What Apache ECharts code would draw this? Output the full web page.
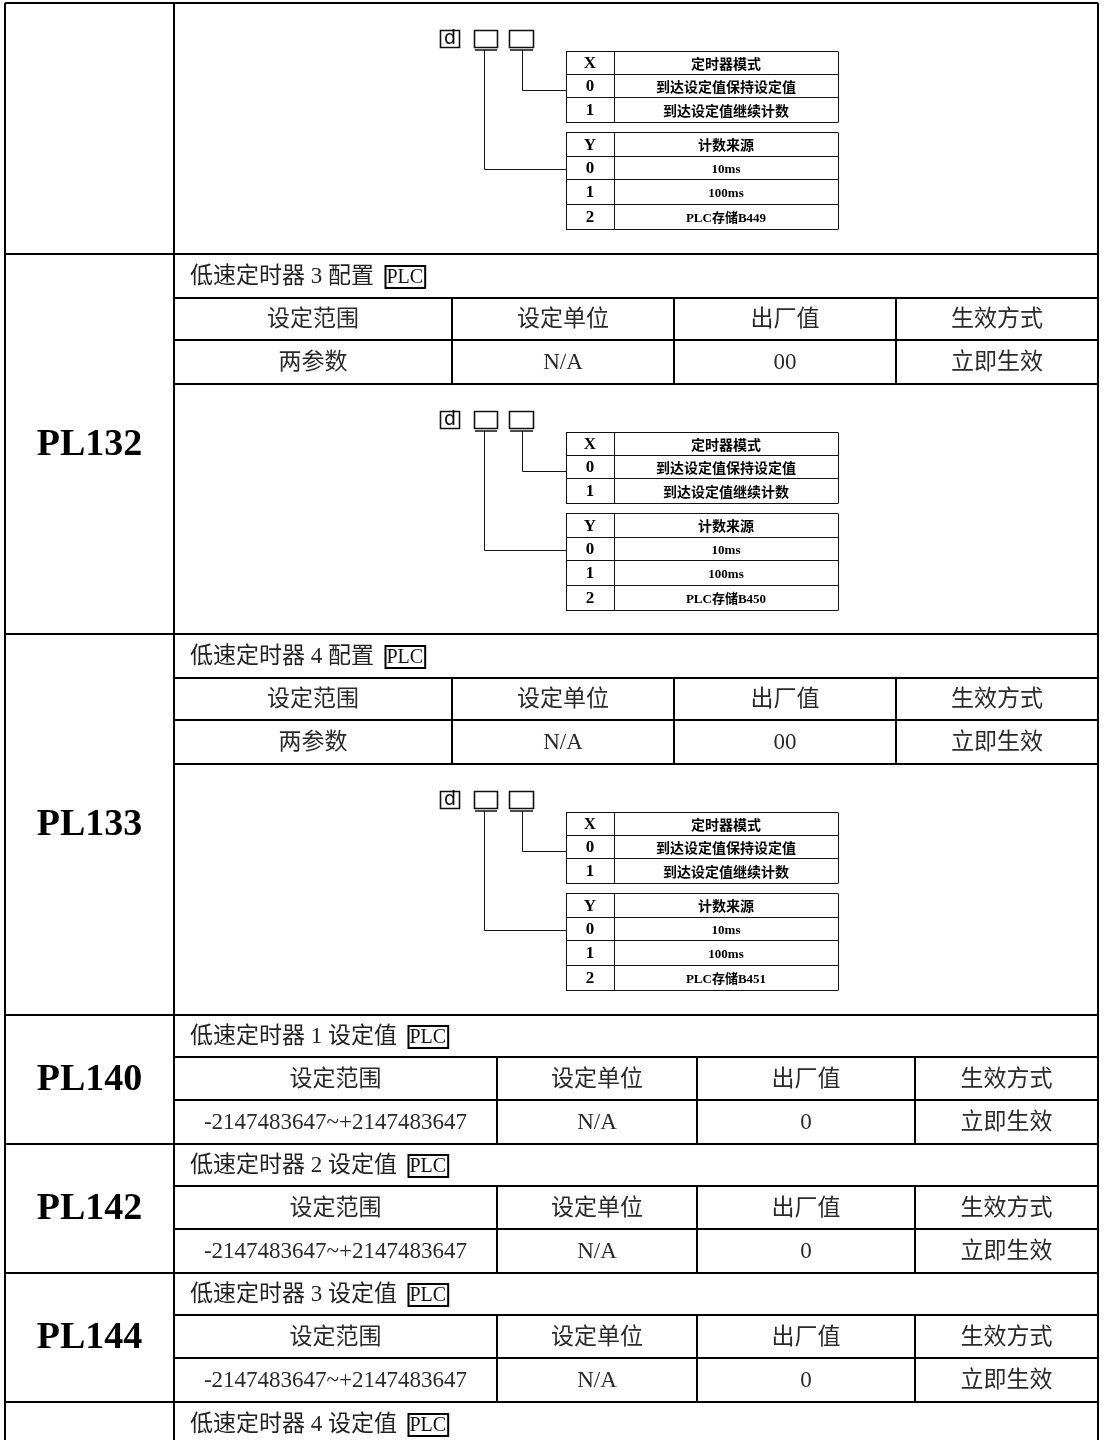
<!DOCTYPE html>
<html>
<head>
<meta charset="utf-8">
<script src="https://cdn.jsdelivr.net/npm/echarts@6/dist/echarts.min.js"></script>
<style>
html,body{margin:0;padding:0;background:#fff;}
#c{width:1106px;height:1440px;}
</style>
</head>
<body>
<div id="c"></div>
<script>
// ---------------- DATA ----------------
const paramCodes = ['', 'PL132', 'PL133', 'PL140', 'PL142', 'PL144', ''];
const paramTitles = [null, '低速定时器 3 配置', '低速定时器 4 配置', '低速定时器 1 设定值', '低速定时器 2 设定值', '低速定时器 3 设定值', '低速定时器 4 设定值'];
const headerLabels = ['设定范围', '设定单位', '出厂值', '生效方式'];
const settingRanges = [null, '两参数', '两参数', '-2147483647~+2147483647', '-2147483647~+2147483647', '-2147483647~+2147483647', null];
const settingUnits = [null, 'N/A', 'N/A', 'N/A', 'N/A', 'N/A', null];
const factoryValues = [null, '00', '00', '0', '0', '0', null];
const effectModes = [null, '立即生效', '立即生效', '立即生效', '立即生效', '立即生效', null];
const plcTag = 'PLC';
const digitBoxes = ['d', '', ''];
const modeHeader = ['X', '定时器模式'];
const modeCodes = ['0', '1'];
const modeTexts = ['到达设定值保持设定值', '到达设定值继续计数'];
const sourceHeader = ['Y', '计数来源'];
const sourceCodes = ['0', '1', '2'];
const sourceTexts = ['10ms', '100ms', 'PLC存储'];
const storageRegisters = ['B449', 'B450', 'B451'];

// ---------------- LAYOUT ----------------
const L = 5, DIV = 174, R = 1098, H = 1440;
const colsA = [174, 452, 674, 896, 1098];
const colsB = [174, 497, 697, 915, 1098];
const blocks = [
  {top: 3,    rows: [],          diag: 251, cols: colsA, diagIdx: 0},
  {top: 254,  rows: [44, 42, 44], diag: 250, cols: colsA, diagIdx: 1},
  {top: 634,  rows: [44, 42, 44], diag: 251, cols: colsA, diagIdx: 2},
  {top: 1015, rows: [42, 43, 44], diag: 0,   cols: colsB},
  {top: 1144, rows: [42, 43, 44], diag: 0,   cols: colsB},
  {top: 1273, rows: [42, 43, 44], diag: 0,   cols: colsB},
  {top: 1402, rows: [44],         diag: 0,   cols: colsB}
];

const CJK = "'Liberation Serif','Noto Sans CJK SC',sans-serif";
const els = [];
function line(x1, y1, x2, y2, w, c) {
  els.push({type: 'line', silent: true, shape: {x1, y1, x2, y2}, style: {stroke: c || '#000', lineWidth: w || 2}});
}
function rect(x, y, w, h, lw, c) {
  els.push({type: 'rect', silent: true, shape: {x, y, width: w, height: h}, style: {fill: 'none', stroke: c || '#000', lineWidth: lw || 1}});
}
function text(t, x, y, st) {
  els.push({type: 'text', silent: true, x, y, style: Object.assign({
    text: t, fill: '#111', textAlign: 'center', textVerticalAlign: 'middle',
    fontSize: 22, fontFamily: CJK
  }, st || {})});
}

// outer frame
line(L, 3, L, H);
line(DIV, 3, DIV, H);
line(R, 3, R, H);
line(L, 3, R, 3);

function diagram(bTop, idx) {
  const xt = bTop + 48;          // top of X table
  const tx1 = 566, tx2 = 838, tc = 614;
  const c1 = (tx1 + tc) / 2, c2 = (tc + tx2) / 2;
  const gc = '#111';
  const bx = [[440, 19], [474, 23], [509, 24]];
  bx.forEach((b, i) => {
    rect(b[0] + 0.5, xt - 20.5, b[1], 17, 1.6, gc);
    if (digitBoxes[i]) text(digitBoxes[i], b[0] + b[1] / 2 + 0.5, xt - 12, {fontFamily: "'DejaVu Sans',sans-serif", fontSize: 19, fill: '#000'});
  });
  line(475, xt - 1, 497, xt - 1, 1.5, gc);
  line(510, xt - 1, 533, xt - 1, 1.5, gc);
  line(484.5, xt - 1, 484.5, xt + 118.5, 1, gc);
  line(484.5, xt + 118.5, tx1, xt + 118.5, 1, gc);
  line(522.5, xt - 1, 522.5, xt + 39.5, 1, gc);
  line(522.5, xt + 39.5, tx1, xt + 39.5, 1, gc);
  // X table
  const xr = [0, 23, 46, 71].map(v => xt + v + 0.5);
  xr.forEach(y => line(tx1, y, tx2, y, 1, gc));
  line(tx1 + 0.5, xr[0], tx1 + 0.5, xr[3], 1, gc);
  line(tx2 + 0.5, xr[0], tx2 + 0.5, xr[3], 1, gc);
  line(tc + 0.5, xr[0], tc + 0.5, xr[3], 1, gc);
  const codeSt = {fontFamily: "'Liberation Serif',serif", fontWeight: 'bold', fontSize: 17, fill: '#000'};
  const txtSt = {fontFamily: CJK, fontWeight: 'bold', fontSize: 14, fill: '#000'};
  const xCodes = [modeHeader[0]].concat(modeCodes);
  const xTexts = [modeHeader[1]].concat(modeTexts);
  for (let i = 0; i < 3; i++) {
    const cy = (xr[i] + xr[i + 1]) / 2 + 1;
    text(xCodes[i], c1, cy, codeSt);
    text(xTexts[i], c2, cy + 1, txtSt);
  }
  // Y table
  const yr = [81, 105, 128, 153, 178].map(v => xt + v + 0.5);
  yr.forEach(y => line(tx1, y, tx2, y, 1, gc));
  line(tx1 + 0.5, yr[0], tx1 + 0.5, yr[4], 1, gc);
  line(tx2 + 0.5, yr[0], tx2 + 0.5, yr[4], 1, gc);
  line(tc + 0.5, yr[0], tc + 0.5, yr[4], 1, gc);
  const yCodes = [sourceHeader[0]].concat(sourceCodes);
  const yTexts = [sourceHeader[1]].concat(sourceTexts.slice(0, 2), [sourceTexts[2] + storageRegisters[idx]]);
  for (let i = 0; i < 4; i++) {
    const cy = (yr[i] + yr[i + 1]) / 2 + 1;
    text(yCodes[i], c1, cy, codeSt);
    text(yTexts[i], c2, cy + 1, i === 0 ? txtSt : Object.assign({}, txtSt, {fontSize: 13}));
  }
}

blocks.forEach((b, bi) => {
  let y = b.top;
  const total = b.rows.reduce((a, v) => a + v, 0) + b.diag;
  const bottom = b.top + total;
  if (paramCodes[bi]) {
    text(paramCodes[bi], (L + DIV) / 2, (b.top + bottom) / 2 + 1, {
      fontFamily: "'Liberation Serif',serif", fontWeight: 'bold', fontSize: 38, fill: '#000'
    });
  }
  if (b.rows.length) {
    const t0 = y, t1 = y + b.rows[0];
    text(paramTitles[bi] + '  {p|' + plcTag + '}', 190, (t0 + t1) / 2 + 1, {
      textAlign: 'left', fontSize: 23, fill: '#222',
      rich: {p: {fontFamily: "'Liberation Serif',serif", fontSize: 20, lineHeight: 19,
                 borderColor: '#000', borderWidth: 2, padding: [2, 2, 0, 1], fill: '#111'}}
    });
    line(DIV, t1, R, t1);
    y = t1;
    if (b.rows.length > 1) {
      const h0 = y, h1 = y + b.rows[1];
      const v0 = h1, v1 = h1 + b.rows[2];
      const vals = [settingRanges[bi], settingUnits[bi], factoryValues[bi], effectModes[bi]];
      for (let c = 0; c < 4; c++) {
        const cx = (b.cols[c] + b.cols[c + 1]) / 2;
        text(headerLabels[c], cx, (h0 + h1) / 2 + 1, {fontSize: 23, fill: '#2a2a2a'});
        text(vals[c], cx, (v0 + v1) / 2 + 1, {fontSize: 23, fill: '#2a2a2a'});
      }
      for (let c = 1; c < 4; c++) line(b.cols[c], h0, b.cols[c], v1);
      line(DIV, h1, R, h1);
      line(DIV, v1, R, v1);
      y = v1;
    }
  }
  if (b.diag) diagram(y, b.diagIdx);
  if (bottom < H) line(L, bottom, R, bottom);
});

const chart = echarts.init(document.getElementById('c'), null, {renderer: 'canvas', width: 1106, height: 1440});
chart.setOption({animation: false, backgroundColor: '#fff', graphic: {elements: els}});
</script>
</body>
</html>
